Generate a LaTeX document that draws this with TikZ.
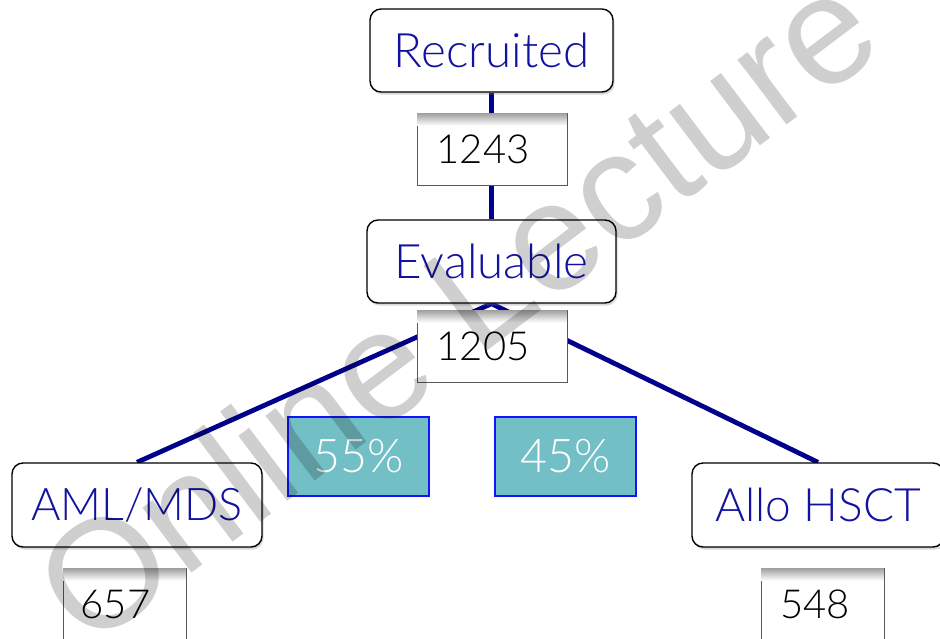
\documentclass[tikz,border=0pt]{standalone}
\usepackage{fontspec}
\setmainfont{Lato}[UprightFont={* Light}]
\newfontfamily\wmfont{Liberation Sans}
\usetikzlibrary{shadows}
\definecolor{lblblue}{RGB}{18,18,160}
\definecolor{linenavy}{RGB}{0,0,140}
\definecolor{tealfill}{RGB}{115,191,198}
\definecolor{pctborder}{RGB}{20,20,250}
\pgfdeclarelayer{bgl}
\pgfdeclarelayer{linel}
\pgfsetlayers{bgl,linel,main}
\tikzset{
  catbox/.style={draw=black, line width=1.4pt, rounded corners=11pt, fill=white,
    text=lblblue, font=\fontsize{46}{50}\selectfont, inner sep=0pt,
    drop shadow={shadow xshift=1.5pt, shadow yshift=-2.5pt, opacity=0.3}},
  numbox/.style={draw=black!65, line width=0.9pt, fill=white, text=black,
    font=\fontsize{40}{44}\selectfont, inner sep=0pt,
    minimum width=150pt, minimum height=72pt},
  pctbox/.style={draw=pctborder, line width=1.3pt, fill=tealfill, text=white,
    font=\fontsize{46.5}{50}\selectfont, inner sep=0pt,
    minimum width=141pt, minimum height=79pt},
  link/.style={draw=linenavy, line width=4.8pt},
  watermark/.style={font=\wmfont\fontsize{154}{156}\selectfont, text=black,
    text opacity=0.19, rotate=37, anchor=base west, inner sep=0pt}
}
\newcommand{\padr}[1]{\rule{#1}{0pt}}
\begin{document}
\begin{tikzpicture}[x=1pt,y=-1pt]
  \path[use as bounding box] (0,0) rectangle (940,638);
  \clip (0,0) rectangle (940,638);
  \begin{pgfonlayer}{bgl}
    \fill[white] (0,0) rectangle (940,638);
  \end{pgfonlayer}

  \node[catbox, minimum width=243pt, minimum height=83pt, font=\fontsize{47.5}{50}\selectfont] (rec) at (491.5,50.5) {Recruited};
  \node[catbox, minimum width=249pt, minimum height=83pt, font=\fontsize{47.5}{50}\selectfont] (eval) at (491.5,261.5) {Evaluable};
  \node[catbox, minimum width=250pt, minimum height=84pt, font=\fontsize{45}{50}\selectfont] (aml) at (137,505) {AML/MDS};
  \node[catbox, minimum width=252pt, minimum height=84pt] (allo) at (818,505) {Allo HSCT};

  \node[numbox] (n1243) at (492,149) {1243\padr{18pt}};
  \node[numbox] (n1205) at (492,346) {1205\padr{18pt}};
  \node[numbox, minimum width=123pt] (n657) at (124.5,604) {657\padr{18pt}};
  \node[numbox, minimum width=123pt] (n548) at (822.5,604) {548\padr{15pt}};

  \foreach \n in {n1243,n1205,n657,n548}{
    \shade[top color=black!38, bottom color=white]
      ([xshift=0.5pt,yshift=-0.45pt]\n.north west) rectangle ([xshift=-0.5pt,yshift=-13pt]\n.north east);
  }

  \node[pctbox] (p55) at (358.5,456.5) {55\%};
  \node[pctbox] (p45) at (565.5,456.5) {45\%};

  \begin{pgfonlayer}{linel}
    \draw[link] (rec.south) -- (eval.north);
    \draw[link, line join=miter] (aml.north) -- (eval.south) -- (allo.north);
  \end{pgfonlayer}

  \node[watermark] (wm) at (88,652) {Online Lecture V};
\end{tikzpicture}
\end{document}
